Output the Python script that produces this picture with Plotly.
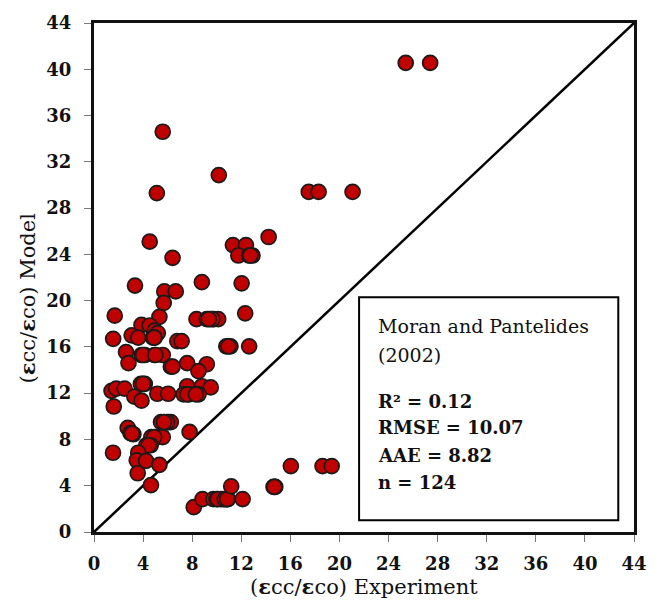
import plotly.graph_objects as go

# Experimental vs. model-predicted strain ratios (εcc/εco)
exp_vals = [
    25.40, 27.39, 5.60, 10.17, 5.12, 17.50, 18.30, 21.07, 4.54, 14.23,
    11.32, 12.38, 6.40, 11.76, 12.64, 12.91, 12.75, 3.34, 8.79, 12.03,
    5.73, 6.66, 5.68, 1.69, 5.33, 12.32,
    8.35, 9.19, 9.51, 9.78, 10.12, 9.65, 9.35,
    3.87, 4.54, 4.94, 5.20, 3.07, 3.60, 4.80, 4.94, 4.90, 1.56,
    6.79, 7.14, 10.78, 11.12, 12.64, 10.95, 2.61,
    3.87, 4.14, 4.94, 5.60, 4.00, 5.00, 2.81, 7.59, 9.19, 8.51, 6.26, 6.40,
    1.43, 1.81, 2.49, 3.82, 4.14, 4.00, 3.29, 3.87, 5.16, 6.04,
    7.59, 8.79, 9.51, 7.30, 7.73, 8.52, 7.60, 8.30, 1.61,
    2.75, 2.97, 3.21, 3.10, 5.46, 6.08, 6.26, 5.95, 5.70,
    4.67, 5.20, 5.60, 4.90, 7.79, 1.55, 4.27, 4.62, 4.45,
    3.60, 3.48, 4.24, 5.33, 3.56, 4.64, 8.13,
    8.84, 9.72, 9.98, 10.33, 10.52, 10.78, 10.92, 12.11, 10.10, 10.65, 10.85,
    11.18, 14.63, 14.77, 14.70, 16.04, 18.62, 19.37,
]
model_vals = [
    40.55, 40.55, 34.6, 30.85, 29.3, 29.4, 29.4, 29.4, 25.1, 25.5,
    24.8, 24.8, 23.7, 23.9, 23.9, 23.9, 23.9, 21.3, 21.6, 21.5,
    20.8, 20.8, 19.8, 18.7, 18.6, 18.9,
    18.4, 18.4, 18.4, 18.4, 18.4, 18.4, 18.4,
    17.9, 17.85, 17.4, 17.2, 17.0, 16.8, 16.8, 16.8, 16.8, 16.7,
    16.5, 16.5, 16.05, 16.05, 16.05, 16.05, 15.55,
    15.3, 15.3, 15.3, 15.3, 15.3, 15.3, 14.6, 14.6, 14.5, 13.9, 14.3, 14.3,
    12.2, 12.4, 12.4, 12.8, 12.8, 12.8, 11.7, 11.35, 11.95, 11.95,
    12.6, 12.6, 12.5, 11.9, 11.9, 11.9, 11.9, 11.9, 10.85,
    9.0, 8.55, 8.45, 8.5, 9.5, 9.5, 9.5, 9.5, 9.5,
    8.2, 8.2, 8.2, 8.2, 8.65, 6.85, 7.5, 7.5, 7.5,
    6.85, 6.2, 6.15, 5.8, 5.08, 4.05, 2.15,
    2.85, 2.85, 2.85, 2.85, 2.85, 2.85, 2.85, 2.85, 2.85, 2.85, 2.85,
    3.95, 3.9, 3.9, 3.9, 5.7, 5.7, 5.7,
]

axis_max = 44
tick_vals = list(range(0, 48, 4))
tick_text = [str(t) for t in tick_vals]

box_title = ["Moran and Pantelides", "(2002)"]
stat_lines = ["R² = 0.12", "RMSE = 10.07", "AAE = 8.82", f"n = {len(exp_vals)}"]

SERIF = "DejaVu Serif"
INK = "#111111"

fig = go.Figure()

# 1:1 reference line
fig.add_trace(go.Scatter(
    x=[0, axis_max], y=[0, axis_max], mode="lines",
    line=dict(color="black", width=2.5), hoverinfo="skip", showlegend=False,
))

fig.add_trace(go.Scatter(
    x=exp_vals, y=model_vals, mode="markers",
    marker=dict(size=15, color="#C00000", line=dict(color="#1a1a1a", width=1.7)),
    showlegend=False,
))

axis_common = dict(
    range=[0, axis_max], tickvals=tick_vals, ticktext=tick_text,
    showgrid=False, zeroline=False,
    showline=True, linewidth=3, linecolor=INK, mirror=True,
    ticks="outside", ticklen=7, tickwidth=1.2, tickcolor="#777777",
    tickfont=dict(family=SERIF, size=18, color=INK, weight="bold"),
)

fig.update_xaxes(**axis_common, ticklabelstandoff=6)
fig.update_yaxes(**axis_common, ticklabelstandoff=9)

# stats box
fig.add_shape(type="rect", xref="x", yref="y", x0=21.6, x1=42.72, y0=1.02, y1=20.3,
              line=dict(color="black", width=2), fillcolor="white", layer="above")

text_x = 23.0
title_y = [17.85, 15.3]
stat_y = [11.3, 9.0, 6.62, 4.25]
annotations = []
for t, yy in zip(box_title, title_y):
    annotations.append(dict(x=text_x, y=yy, xref="x", yref="y", text=t, showarrow=False,
                            xanchor="left", yanchor="middle",
                            font=dict(family=SERIF, size=19, color=INK)))
for t, yy in zip(stat_lines, stat_y):
    annotations.append(dict(x=text_x, y=yy, xref="x", yref="y", text=f"<b>{t}</b>",
                            showarrow=False, xanchor="left", yanchor="middle",
                            font=dict(family=SERIF, size=18, color=INK)))

# axis titles
annotations.append(dict(x=0.5, y=-0.108, xref="paper", yref="paper", yanchor="middle",
                        text="(<b>ε</b>cc/<b>ε</b>co) Experiment", showarrow=False,
                        font=dict(family=SERIF, size=21, color=INK)))
annotations.append(dict(x=-0.123, y=0.46, xref="paper", yref="paper", xanchor="center",
                        text="(<b>ε</b>cc/<b>ε</b>co) Model", showarrow=False, textangle=-90,
                        font=dict(family=SERIF, size=21, color=INK)))

fig.update_layout(
    width=659, height=610,
    margin=dict(l=94, r=15, t=13, b=78),
    plot_bgcolor="white", paper_bgcolor="white",
    annotations=annotations,
)

fig.write_html("out.html")
